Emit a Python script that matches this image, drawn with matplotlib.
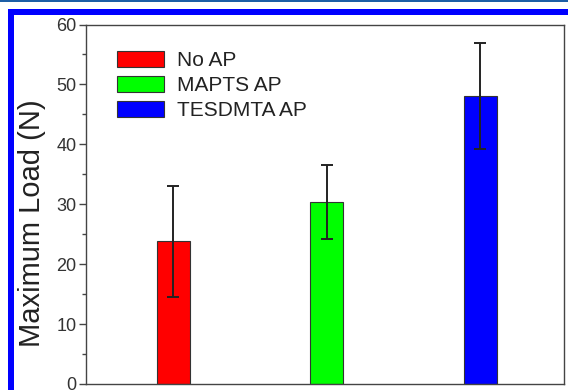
import matplotlib
matplotlib.use("Agg")
import matplotlib.pyplot as plt
from matplotlib.patches import Rectangle
from matplotlib.ticker import MultipleLocator

categories = ["No AP", "MAPTS AP", "TESDMTA AP"]
values = [23.8, 30.4, 48.1]
errors = [9.2, 6.2, 8.8]
colors = ["#ff0000", "#00ff00", "#0000ff"]
yticks = [0, 10, 20, 30, 40, 50, 60]

plt.rcParams['font.family'] = ['Liberation Sans', 'DejaVu Sans']

W, H = 568, 390
fig = plt.figure(figsize=(W / 100, H / 100), dpi=100)
fig.patch.set_facecolor("white")

# decorative frame
fig.add_artist(Rectangle((0, 1 - 2 / H), 1, 2 / H, transform=fig.transFigure,
                         facecolor="#1d5ea6", edgecolor="none"))
fig.add_artist(Rectangle((8 / W, 1 - 15 / H), 1 - 8 / W, 6 / H, transform=fig.transFigure,
                         facecolor="#0000ff", edgecolor="none"))
fig.add_artist(Rectangle((8 / W, 0), 6 / W, 1 - 9 / H, transform=fig.transFigure,
                         facecolor="#0000ff", edgecolor="none"))

ax = fig.add_axes([86 / W, (H - 384) / H, (564 - 86) / W, (384 - 24.5) / H])
x = list(range(len(categories)))
bars = ax.bar(x, values, width=0.215, color=colors, edgecolor="#333333", linewidth=0.8,
              yerr=errors, capsize=4,
              error_kw=dict(elinewidth=1.4, capthick=1.4, ecolor="#222222"),
              label=None)

ax.set_xlim(-0.567, 2.547)
ax.set_ylim(0, 60)
ax.set_yticks(yticks)
ax.yaxis.set_minor_locator(MultipleLocator(5))
ax.set_xticks([])
for s in ax.spines.values():
    s.set_color("#444444")
    s.set_linewidth(1.0)
ax.tick_params(axis="y", which="major", direction="out", length=5, width=1.0,
               color="#444444", labelsize=13, labelcolor="#333333", pad=2)
ax.tick_params(axis="y", which="minor", direction="out", length=3, width=1.0,
               color="#444444")

handles = [Rectangle((0, 0), 1, 1, facecolor=c, edgecolor="#333333", linewidth=0.8)
           for c in colors]
leg = ax.legend(handles, categories, loc="upper left",
                bbox_to_anchor=((117 - 86) / 478, (384 - 51) / 359.5),
                frameon=False, fontsize=15, handlelength=2.25, handleheight=0.82,
                labelspacing=0.27, handletextpad=0.65, borderpad=0, borderaxespad=0)
for t in leg.get_texts():
    t.set_color("#222222")

fig.text(32 / W, (H - 223.5) / H, "Maximum Load (N)", rotation=90,
         ha="center", va="center", fontsize=21, color="#222222")

fig.savefig("out.png", dpi=100)
